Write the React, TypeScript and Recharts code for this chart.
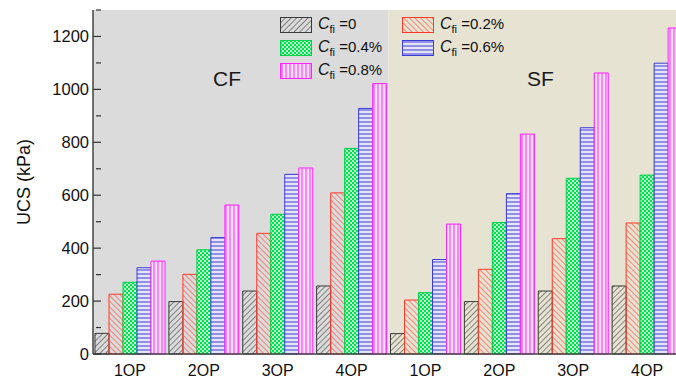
import {
  BarChart,
  Bar,
  XAxis,
  YAxis,
  ReferenceArea,
  Legend,
} from "recharts"

const CATEGORIES = ["CF-1OP", "CF-2OP", "CF-3OP", "CF-4OP", "SF-1OP", "SF-2OP", "SF-3OP", "SF-4OP"]
const SERIES_KEYS = ["c0", "c02", "c04", "c06", "c08"]
const SERIES_LABELS = ["=0", "=0.2%", "=0.4%", "=0.6%", "=0.8%"]

const UCS_0 = [78, 198, 238, 257, 77, 198, 238, 257]
const UCS_02 = [226, 301, 456, 609, 204, 320, 436, 495]
const UCS_04 = [271, 394, 528, 777, 232, 497, 664, 676]
const UCS_06 = [326, 440, 679, 928, 357, 606, 855, 1099]
const UCS_08 = [351, 563, 703, 1022, 491, 831, 1062, 1232]

const Y_TICKS = [0, 100, 200, 300, 400, 500, 600, 700, 800, 900, 1000, 1100, 1200, 1300]

const data = CATEGORIES.map((name, i) => ({
  name,
  c0: UCS_0[i],
  c02: UCS_02[i],
  c04: UCS_04[i],
  c06: UCS_06[i],
  c08: UCS_08[i],
}))

const STROKES = ["#3a3a3a", "#ff3a2a", "#00d24a", "#3c3cd8", "#ff20ff"]
const FONT = "'Liberation Sans', Arial, sans-serif"

function Patterns() {
  return (
    <defs>
      <pattern id="pat-c0" width="4" height="4" patternUnits="userSpaceOnUse" patternTransform="rotate(45)">
        <line x1="0" y1="0" x2="0" y2="4" stroke="#333" strokeWidth="1.1" />
      </pattern>
      <pattern id="pat-c02" width="4" height="4" patternUnits="userSpaceOnUse" patternTransform="rotate(-45)">
        <line x1="0" y1="0" x2="0" y2="4" stroke="#ff3a2a" strokeWidth="1.1" />
      </pattern>
      <pattern id="pat-c04" width="4" height="4" patternUnits="userSpaceOnUse">
        <rect width="4" height="4" fill="#00e050" />
        <rect x="0" y="0" width="2" height="2" fill="#b8f5c8" />
        <rect x="2" y="2" width="2" height="2" fill="#b8f5c8" />
      </pattern>
      <pattern id="pat-c06" width="4" height="4" patternUnits="userSpaceOnUse">
        <rect width="4" height="4" fill="#e4e4f4" />
        <line x1="0" y1="2" x2="4" y2="2" stroke="#3c3cd8" strokeWidth="1" />
      </pattern>
      <pattern id="pat-c08" width="4" height="4" patternUnits="userSpaceOnUse">
        <rect width="4" height="4" fill="#fbe4fb" />
        <line x1="2" y1="0" x2="2" y2="4" stroke="#ff20ff" strokeWidth="1" />
      </pattern>
    </defs>
  )
}

const YTick = (props: any) => {
  const { x, y, payload } = props
  const major = payload.value % 200 === 0
  return (
    <g>
      <line x1={x + 8 - (major ? 8 : 5)} y1={y} x2={x + 8} y2={y} stroke="#333" strokeWidth={1.2} />
      {major && (
        <text x={x - 4} y={y} dy={6} textAnchor="end" fontSize={16.5} fill="#111" fontFamily={FONT}>
          {payload.value}
        </text>
      )}
    </g>
  )
}

const XTick = (props: any) => {
  const { x, y, payload } = props
  return (
    <text x={x} y={y} dy={14} textAnchor="middle" fontSize={16} fill="#111" fontFamily={FONT}>
      {String(payload.value).split("-")[1]}
    </text>
  )
}

const regionLabel = (text: string, dx: number) => (props: any) => {
  const { viewBox } = props
  return (
    <text x={viewBox.x + dx} y={viewBox.y + 76} textAnchor="middle" fontSize={21} fill="#1a1a1a" fontFamily={FONT}>
      {text}
    </text>
  )
}

const LEGEND_POS = [
  { left: 0, top: 0 },
  { left: 122, top: 0 },
  { left: 0, top: 23 },
  { left: 122, top: 23 },
  { left: 0, top: 46 },
]

const renderLegend = () => (
  <div style={{ position: "relative", width: 240, height: 70, fontFamily: FONT }}>
    {SERIES_KEYS.map((key, i) => (
      <div
        key={key}
        style={{
          position: "absolute",
          left: LEGEND_POS[i].left,
          top: LEGEND_POS[i].top,
          display: "flex",
          alignItems: "center",
          whiteSpace: "nowrap",
        }}
      >
        <svg width={32} height={16} style={{ display: "block" }}>
          <rect x={0.5} y={0.5} width={31} height={15} fill={`url(#pat-${key})`} stroke={STROKES[i]} />
        </svg>
        <span style={{ marginLeft: 6, fontSize: 15, color: "#111" }}>
          <i style={{ fontSize: 16 }}>C</i>
          <sub style={{ fontSize: 11 }}>fi</sub> {SERIES_LABELS[i]}
        </span>
      </div>
    ))}
  </div>
)

export default function App() {
  return (
    <div style={{ position: "fixed", left: 0, top: 0, width: 676, height: 381, overflow: "hidden", background: "#fff" }}>
      <BarChart
        width={684}
        height={381}
        data={data}
        margin={{ top: 10, right: 0, left: 43, bottom: 0 }}
        barCategoryGap={2}
        barGap={0}
      >
        <Patterns />
        <ReferenceArea
          x1="CF-1OP"
          x2="CF-4OP"
          y1={0}
          y2={1300}
          fill="#dbdbdb"
          fillOpacity={1}
          stroke="none"
          label={regionLabel("CF", 134)}
        />
        <ReferenceArea
          x1="SF-1OP"
          x2="SF-4OP"
          y1={0}
          y2={1300}
          fill="#e6e3d2"
          fillOpacity={1}
          stroke="none"
          label={regionLabel("SF", 152)}
        />
        <XAxis
          dataKey="name"
          tickLine={false}
          axisLine={{ stroke: "#444", strokeWidth: 1.5 }}
          tick={<XTick />}
          height={27}
          interval={0}
        />
        <YAxis
          domain={[0, 1300]}
          ticks={Y_TICKS}
          interval={0}
          tickLine={false}
          axisLine={{ stroke: "#444", strokeWidth: 1.5 }}
          tick={<YTick />}
          tickSize={0}
          tickMargin={0}
          width={50}
          label={{
            value: "UCS (kPa)",
            angle: -90,
            position: "insideLeft",
            offset: 0,
            dx: -19,
            fontSize: 18,
            fill: "#111",
            fontFamily: FONT,
            style: { textAnchor: "middle" },
          }}
        />
        {SERIES_KEYS.map((key, i) => (
          <Bar
            key={key}
            dataKey={key}
            fill={`url(#pat-${key})`}
            stroke={STROKES[i]}
            strokeWidth={1}
            isAnimationActive={false}
          />
        ))}
        <Legend
          layout="vertical"
          align="center"
          verticalAlign="middle"
          content={renderLegend}
          wrapperStyle={{ left: 280, top: 15, width: 240 }}
        />
      </BarChart>
    </div>
  )
}
